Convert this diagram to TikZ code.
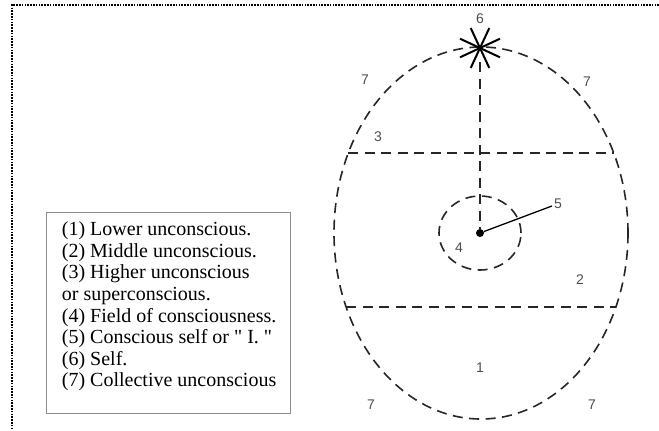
\documentclass[tikz,border=0pt]{standalone}
\usepackage{fontspec}
\setmainfont{Liberation Serif}
\newfontfamily\numfont{Liberation Sans}
\usetikzlibrary{shapes.geometric,calc,positioning}

\begin{document}
\begin{tikzpicture}[
    x=1bp, y=-1bp,
    dashline/.style={draw=black!85, line width=1.6bp, dash pattern=on 10bp off 6.5bp},
    num/.style={font=\numfont\fontsize{14bp}{16bp}\selectfont, text=black!70, inner sep=0},
    keybox/.style={draw=black!45, line width=0.6bp, minimum width=244bp, minimum height=201bp, inner sep=0},
    keytext/.style={align=left, inner sep=0, font=\fontsize{20bp}{21.6bp}\selectfont},
    ray/.style={line width=2bp, black}
  ]
    \useasboundingbox (0,0) rectangle (659,430);

    % page frame (top and left edge only)
    \coordinate (corner) at (12,5);
    \coordinate (topend) at (659,5);
    \coordinate (leftend) at (12,430);
    \draw[line width=1.6bp, dash pattern=on 1.6bp off 1.2bp] (topend) -- (corner) -- (leftend);

    % egg of the psyche
    \node[ellipse, dashline, minimum width=294bp, minimum height=372bp, inner sep=0] (psyche) at (481,233) {};
    \coordinate (highleft) at (348.3,153);
    \coordinate (highright) at (613.7,153);
    \coordinate (lowleft) at (346,307);
    \coordinate (lowright) at (616,307);
    \draw[dashline] (highleft) -- (highright);
    \draw[dashline] (lowleft) -- (lowright);

    % field of consciousness and the I
    \node[ellipse, dashline, minimum width=82bp, minimum height=74bp, inner sep=0] (field) at (480,233) {};
    \node[circle, fill=black, minimum size=8bp, inner sep=0] (ego) at (480,233) {};

    % the Self
    \node[inner sep=0] (self) at (480,48) {};
    \foreach \a in {25,65,115,155}
      \draw[ray] ($(self)+(\a:22)$) -- ($(self)+(\a+180:22)$);
    \coordinate (selfbase) at (480,62);
    \draw[dashline] (selfbase) -- (ego.north);

    % labels
    \node[num] (l6) at (480,19) {6};
    \node[num] (l7a) at (365,80) {7};
    \node[num] (l7b) at (587,82) {7};
    \node[num] (l3) at (378,137) {3};
    \node[num] (l5) at (558,204) {5};
    \node[num] (l4) at (459,248) {4};
    \node[num] (l2) at (580,280) {2};
    \node[num] (l1) at (480,368) {1};
    \node[num] (l7c) at (371,405) {7};
    \node[num] (l7d) at (592,405) {7};
    \draw[line width=1.3bp] (ego) -- ($(l5.west)+(-2,2)$);

    % key
    \node[keybox] (key) at (168,312.5) {};
    \node[keytext, anchor=north west] (keytext) at ($(key.north west)+(16,10)$)
      {(1) Lower unconscious.\\
       (2) Middle unconscious.\\
       (3) Higher unconscious\\
       or superconscious.\\
       (4) Field of consciousness.\\
       (5) Conscious self or \textquotedbl\ I. \textquotedbl\\
       (6) Self.\\
       (7) Collective unconscious};
  \end{tikzpicture}
\end{document}
